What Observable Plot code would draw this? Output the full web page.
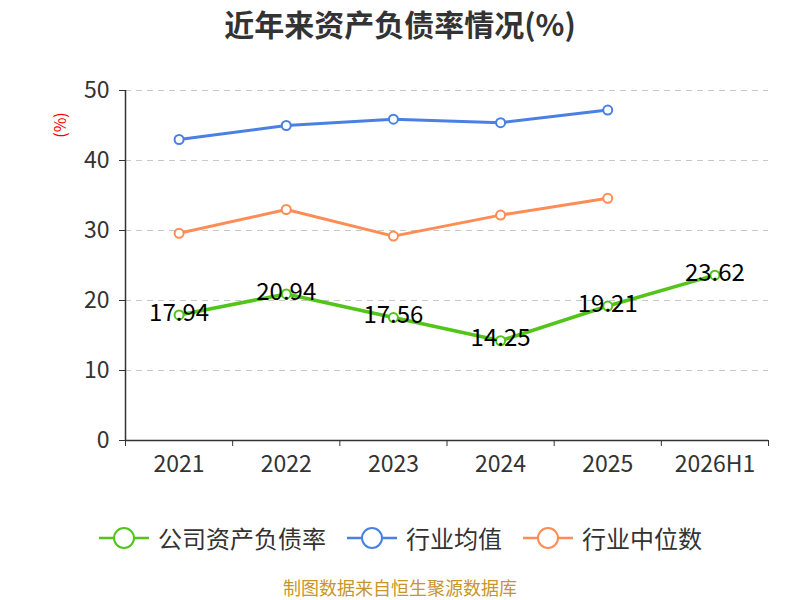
<!DOCTYPE html>
<html>
<head>
<meta charset="utf-8">
<script src="https://cdn.jsdelivr.net/npm/d3@7"></script>
<script src="https://cdn.jsdelivr.net/npm/@observablehq/plot@0.6"></script>
<style>
  body { margin: 0; background: #fff; font-family: "Noto Sans CJK SC", "Noto Sans", sans-serif; }
  #wrap { width: 800px; height: 600px; overflow: hidden; }
  #title { height: 50px; line-height: 46px; text-align: center; font-size: 30px; font-weight: bold; color: #333; }
  #legend { height: 75px; display: flex; justify-content: center; align-items: center; gap: 20px; font-size: 24px; color: #333; }
  .item { display: flex; align-items: center; gap: 8px; }
  #caption { height: 25px; line-height: 25px; text-align: center; font-size: 18px; color: #c8952a; }
  svg text { font-family: "Noto Sans CJK SC", "Noto Sans", sans-serif; }
</style>
</head>
<body>
<div id="wrap">
  <div id="title">近年来资产负债率情况(%)</div>
  <div id="chart"></div>
  <div id="legend"></div>
  <div id="caption">制图数据来自恒生聚源数据库</div>
</div>
<script>
const categories = ["2021", "2022", "2023", "2024", "2025", "2026H1"];
const companyRate = [17.94, 20.94, 17.56, 14.25, 19.21, 23.62];
const industryAvg = [43.0, 45.0, 45.9, 45.4, 47.2];
const industryMedian = [29.6, 33.0, 29.2, 32.2, 34.6];
const yTicks = [0, 10, 20, 30, 40, 50];
const seriesNames = ["公司资产负债率", "行业均值", "行业中位数"];
const seriesColors = ["#52c41a", "#4a80e2", "#ff8c55"];

const toRows = (vals, s) => vals.map((v, i) => ({ i: i + 0.5, v, s, cat: categories[i] }));
const rowsC = toRows(companyRate, seriesNames[0]);
const rowsA = toRows(industryAvg, seriesNames[1]);
const rowsM = toRows(industryMedian, seriesNames[2]);
const boundaries = d3.range(categories.length + 1);
const centers = categories.map((c, i) => i + 0.5);

const chart = Plot.plot({
  width: 800,
  height: 450,
  marginTop: 40,
  marginBottom: 60,
  marginLeft: 125,
  marginRight: 32,
  x: { domain: [0, categories.length], axis: null },
  y: { domain: [0, 50], axis: null },
  marks: [
    Plot.ruleY(yTicks.filter(d => d > 0), { stroke: "#c8c8c8", strokeDasharray: "6,5", strokeWidth: 1.2 }),
    Plot.axisY({ ticks: yTicks, tickSize: 6, tickPadding: 10, fontSize: 23, stroke: "#333", color: "#333", label: null }),
    Plot.axisX({ ticks: boundaries, tickSize: 6, tickFormat: () => "", stroke: "#333", label: null }),
    Plot.axisX({ ticks: centers, tickSize: 0, tickPadding: 15, fontSize: 23, color: "#333", tickFormat: d => categories[Math.round(d - 0.5)], label: null }),
    Plot.ruleX([0], { y1: 0, y2: 50, stroke: "#333", strokeWidth: 1.5 }),
    Plot.ruleY([0], { stroke: "#333", strokeWidth: 1.5 }),
    Plot.line(rowsA, { x: "i", y: "v", stroke: seriesColors[1], strokeWidth: 3 }),
    Plot.line(rowsM, { x: "i", y: "v", stroke: seriesColors[2], strokeWidth: 3 }),
    Plot.line(rowsC, { x: "i", y: "v", stroke: seriesColors[0], strokeWidth: 3.5 }),
    Plot.dot(rowsA, { x: "i", y: "v", r: 4.5, fill: "white", stroke: seriesColors[1], strokeWidth: 2 }),
    Plot.dot(rowsM, { x: "i", y: "v", r: 4.5, fill: "white", stroke: seriesColors[2], strokeWidth: 2 }),
    Plot.dot(rowsC, { x: "i", y: "v", r: 4.5, fill: "white", stroke: seriesColors[0], strokeWidth: 2 }),
    Plot.text(rowsC, { x: "i", y: "v", dy: -2, text: d => d.v.toFixed(2), fontSize: 24, fill: "#000" })
  ]
});
const svg = d3.select(chart);
svg.append("text")
  .attr("transform", "translate(62,75) rotate(-90)")
  .attr("text-anchor", "middle")
  .attr("dominant-baseline", "middle")
  .attr("fill", "red")
  .attr("font-size", 16)
  .text("(%)");
document.getElementById("chart").appendChild(chart);

const legend = document.getElementById("legend");
seriesNames.forEach((name, k) => {
  const item = document.createElement("div");
  item.className = "item";
  const c = seriesColors[k];
  item.innerHTML = `<svg width="52" height="26"><line x1="1" y1="13" x2="51" y2="13" stroke="${c}" stroke-width="2.5"/><circle cx="26" cy="13" r="10" fill="white" stroke="${c}" stroke-width="2"/></svg><span>${name}</span>`;
  legend.appendChild(item);
});
</script>
</body>
</html>
